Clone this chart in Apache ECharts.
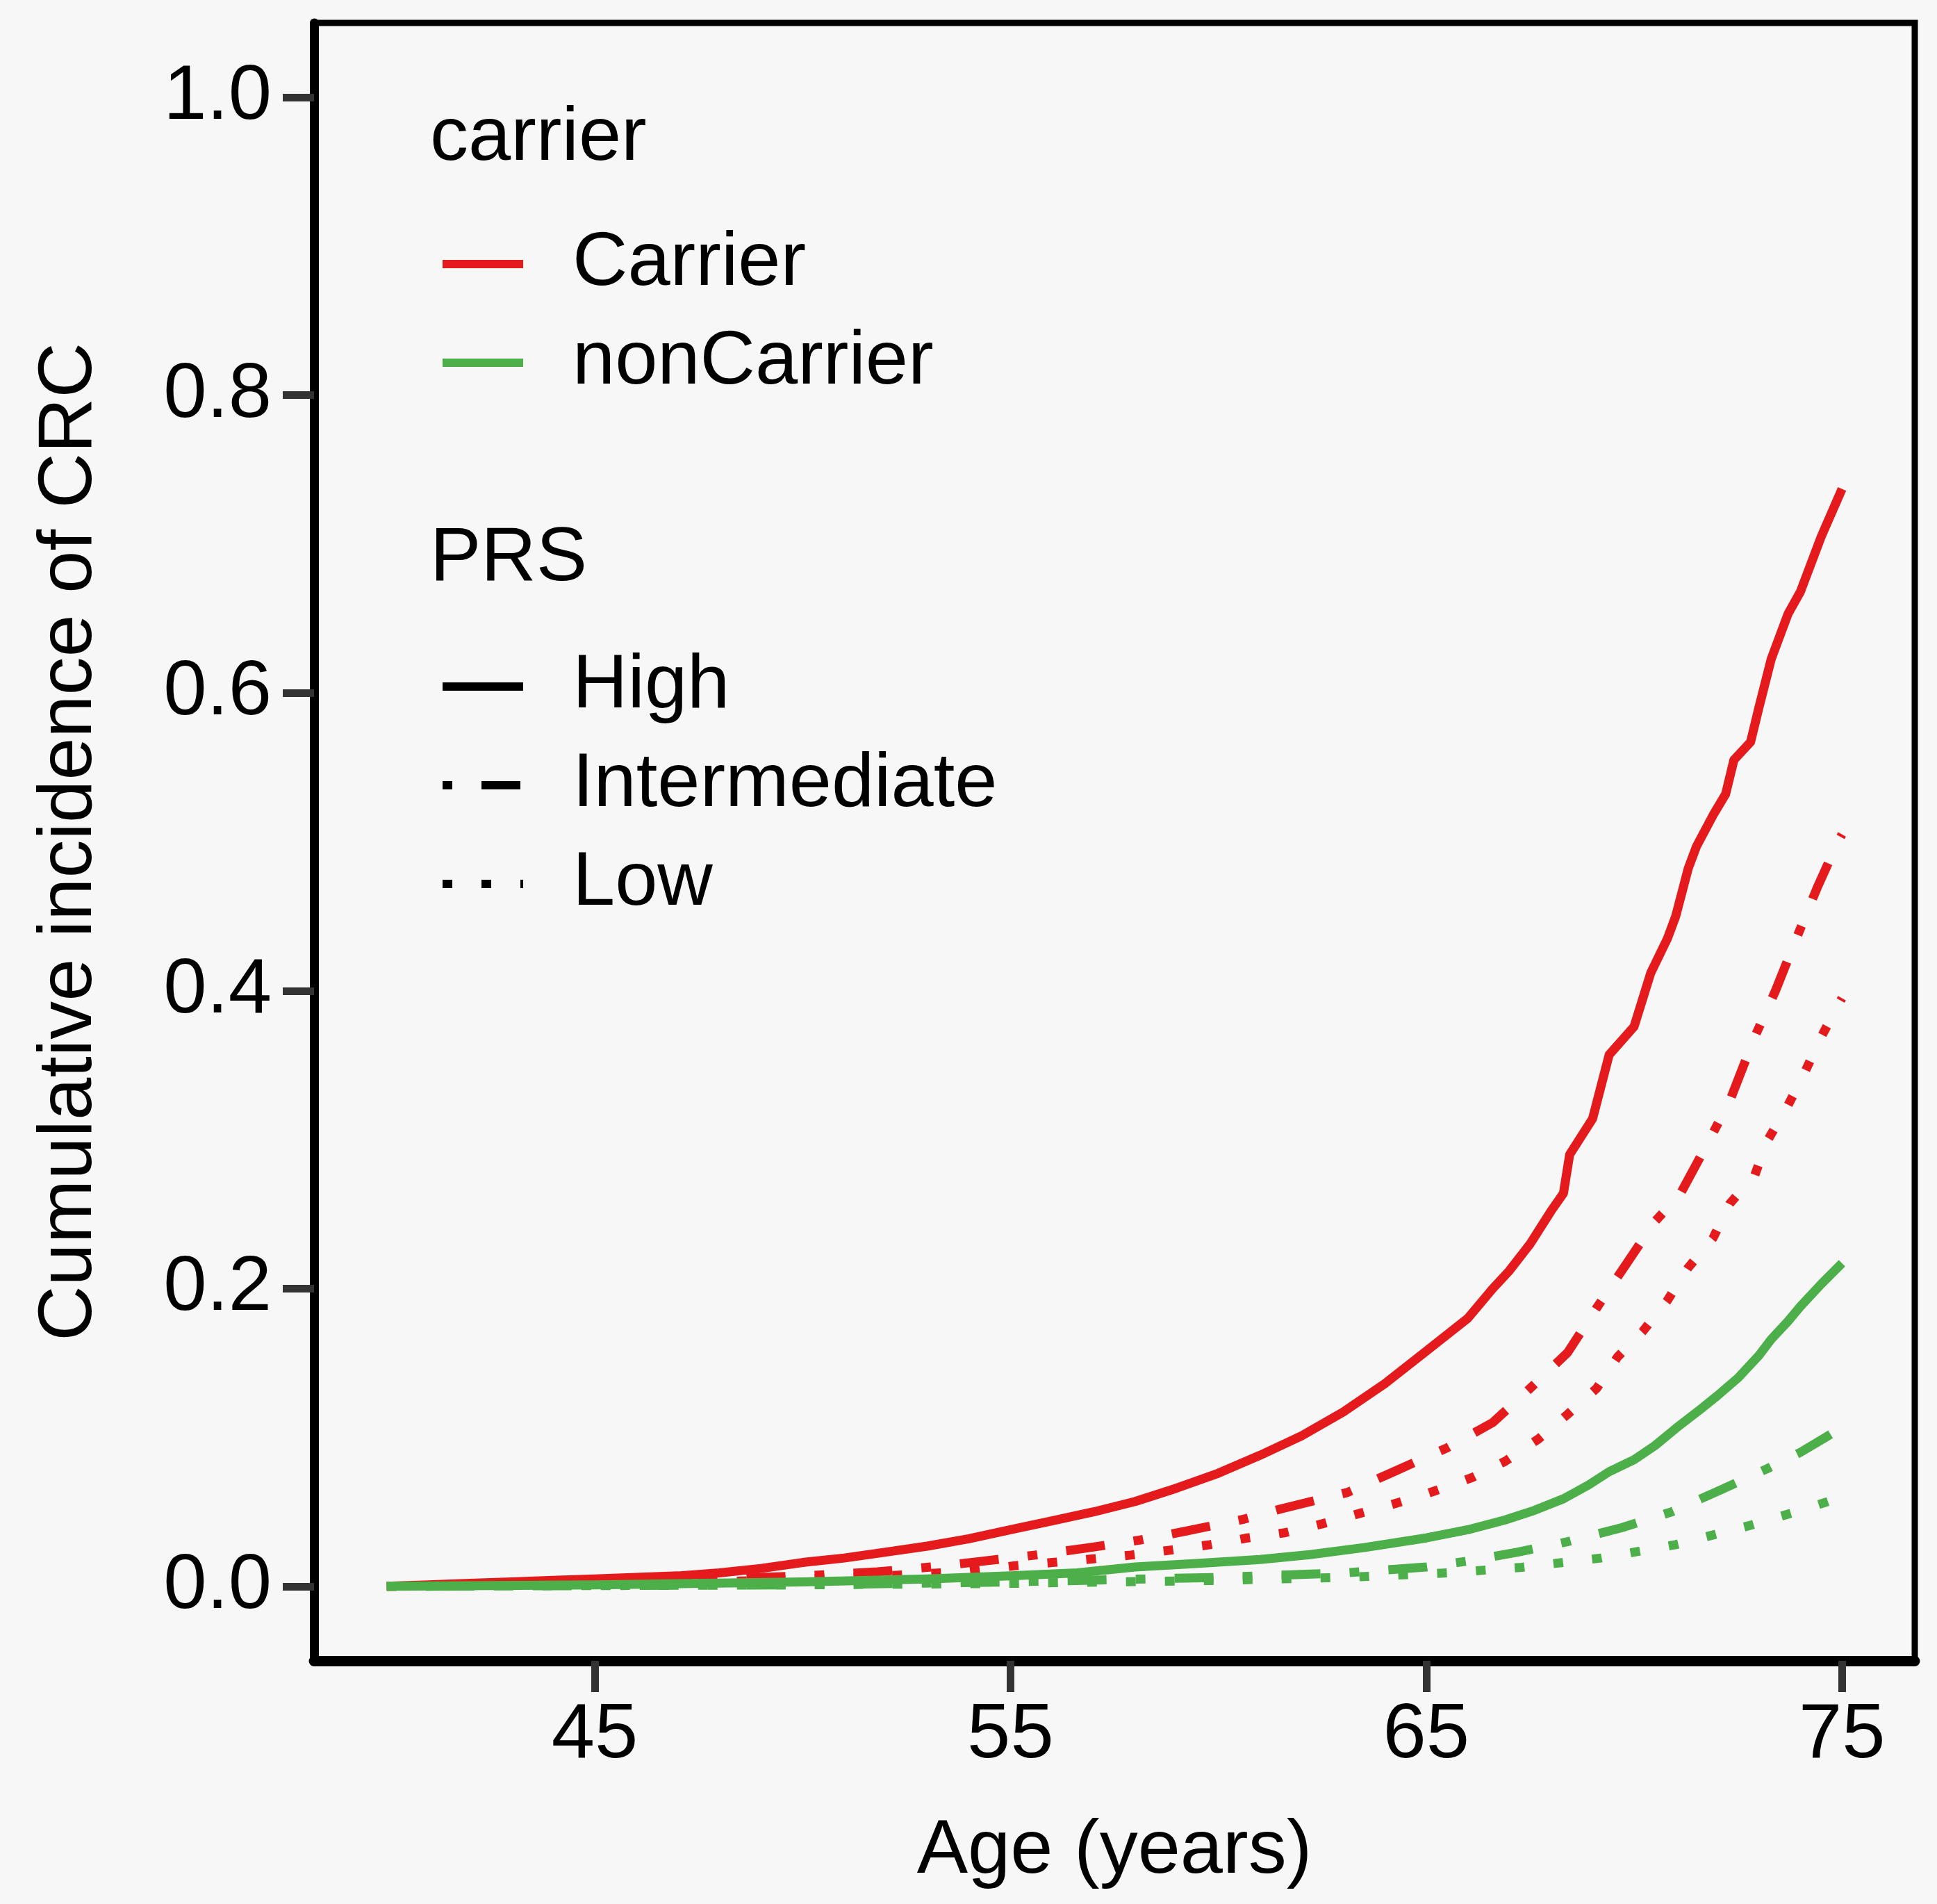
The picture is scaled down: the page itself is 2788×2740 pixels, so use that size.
<!DOCTYPE html>
<html>
<head>
<meta charset="utf-8">
<script src="https://cdn.jsdelivr.net/npm/echarts@6/dist/echarts.min.js"></script>
<style>
html,body{margin:0;padding:0;background:#f7f7f7;}
#chart{width:2788px;height:2740px;}
</style>
</head>
<body>
<div id="chart"></div>
<script>
// ---- data ----
const xTicks = [45, 55, 65, 75];
const yTicks = [0, 0.2, 0.4, 0.6, 0.8, 1.0];

const carrierHighAge = [40,41,42,43,44,45,46,47,48,49,50,51,52,53,54,55,56,57,58,59,60,61,62,63,64,65,66,66.6,67,67.5,68,68.3,68.45,69,69.4,70,70.4,70.8,71,71.3,71.5,71.9,72.2,72.4,72.8,73,73.3,73.7,74,74.5,75];
const carrierHighVal = [0,0.001,0.002,0.003,0.004,0.005,0.006,0.007,0.009,0.012,0.016,0.019,0.023,0.027,0.032,0.038,0.044,0.050,0.057,0.066,0.076,0.088,0.101,0.117,0.136,0.158,0.180,0.200,0.212,0.230,0.252,0.264,0.290,0.314,0.357,0.376,0.412,0.435,0.450,0.482,0.497,0.518,0.532,0.555,0.567,0.590,0.623,0.653,0.668,0.705,0.737];

const carrierInterAge = [40,42,44,46,48,50,51.8,53.1,54.3,55.6,56.9,58.1,59.2,60.6,61.5,63.1,64.3,65.5,66.6,67.5,68.4,69.1,69.8,70.5,71.1,71.7,72.3,72.9,73.4,73.9,74.4,74.9,75];
const carrierInterVal = [0,0.001,0.002,0.003,0.005,0.007,0.0097,0.013,0.0168,0.021,0.026,0.031,0.037,0.045,0.052,0.063,0.078,0.093,0.110,0.133,0.157,0.187,0.216,0.245,0.263,0.294,0.326,0.369,0.400,0.435,0.469,0.500,0.505];

const carrierLowAge = [40,44,48,50,52,54,55.1,56.0,57.0,57.9,58.9,59.8,60.7,61.6,62.5,63.4,64.3,65.2,66.1,66.9,67.7,68.4,69.1,69.6,70.2,70.8,71.3,71.9,72.3,72.9,73.2,73.7,74.1,74.5,74.9,75];
const carrierLowVal = [0,0.001,0.003,0.005,0.007,0.010,0.0138,0.016,0.0185,0.021,0.0245,0.028,0.0325,0.036,0.042,0.049,0.056,0.064,0.073,0.084,0.099,0.1155,0.133,0.154,0.171,0.192,0.214,0.234,0.257,0.276,0.299,0.323,0.345,0.369,0.390,0.395];

const nonHighAge = [40,45,50,53,55,56.6,58,59.4,61,62.2,63.5,65,66,66.9,67.6,68.3,68.9,69.4,70,70.5,71,71.6,72,72.5,73,73.3,73.7,74,74.5,75];
const nonHighVal = [0,0.001,0.003,0.005,0.007,0.009,0.013,0.0152,0.018,0.0213,0.026,0.0325,0.038,0.0446,0.051,0.0588,0.068,0.077,0.085,0.0945,0.106,0.119,0.128,0.140,0.155,0.166,0.178,0.188,0.203,0.217];

const nonInterAge = [40,50,55,60,63,65,66,67.2,68.4,69.7,70.9,72.1,73.2,74,74.6,75];
const nonInterVal = [0,0.001,0.003,0.006,0.009,0.013,0.017,0.023,0.030,0.0394,0.050,0.065,0.079,0.090,0.100,0.107];

const nonLowAge = [40,50,55,60,63,65.5,67.3,69.2,71,72.8,74,75];
const nonLowVal = [0,0.001,0.002,0.004,0.006,0.009,0.0128,0.019,0.028,0.041,0.051,0.060];

const carrierNames = ['Carrier', 'nonCarrier'];
const prsNames = ['High', 'Intermediate', 'Low'];

// ---- styles ----
const RED = '#E41A1C', GREEN = '#4DAF4A';
const LW = 13;
const DASH = {
  High: 'solid',
  Intermediate: [14, 42, 56, 42],
  Low: [14, 42]
};
const FONT = '"Liberation Sans", Arial, Helvetica, sans-serif';

function pairs(a, v) { return a.map((x, i) => [x, v[i]]); }

function curve(name, color, prs, a, v) {
  return {
    name: name, type: 'line', data: pairs(a, v),
    symbol: 'none', showSymbol: false, smooth: false, animation: false,
    lineStyle: { color: color, width: LW, type: DASH[prs], cap: 'butt', join: 'round' },
    itemStyle: { color: color },
    emphasis: { disabled: true }, silent: true, z: 3
  };
}
function dummy(name, color, prs) {
  return {
    name: name, type: 'line', data: [], symbol: 'none', animation: false,
    lineStyle: { color: color, width: LW, type: DASH[prs] },
    itemStyle: { color: color }
  };
}

const series = [
  curve('Carrier High', RED, 'High', carrierHighAge, carrierHighVal),
  curve('Carrier Intermediate', RED, 'Intermediate', carrierInterAge, carrierInterVal),
  curve('Carrier Low', RED, 'Low', carrierLowAge, carrierLowVal),
  curve('nonCarrier High', GREEN, 'High', nonHighAge, nonHighVal),
  curve('nonCarrier Intermediate', GREEN, 'Intermediate', nonInterAge, nonInterVal),
  curve('nonCarrier Low', GREEN, 'Low', nonLowAge, nonLowVal),
  dummy('Carrier', RED, 'High'),
  dummy('nonCarrier', GREEN, 'High'),
  dummy('High', '#000', 'High'),
  dummy('Intermediate', '#000', 'Intermediate'),
  dummy('Low', '#000', 'Low')
];

const legendCommon = {
  orient: 'vertical', left: 631, itemWidth: 116, itemHeight: 20, itemGap: 0, padding: 0,
  selectedMode: false,
  itemStyle: { opacity: 0 },
  lineStyle: { width: 12, cap: 'butt' },
  textStyle: { fontSize: 110, fontFamily: FONT, color: '#000', lineHeight: 142, padding: [0, 0, 0, 66] }
};

const chart = echarts.init(document.getElementById('chart'), null, { renderer: 'canvas' });
chart.setOption({
  backgroundColor: '#f7f7f7',
  animation: false,
  grid: { left: 452, top: 33, width: 2304, height: 2357, show: true, borderColor: '#000', borderWidth: 9, backgroundColor: '#f7f7f7', containLabel: false },
  xAxis: {
    type: 'value', min: 38.25, max: 76.75,
    name: 'Age (years)', nameLocation: 'middle', nameGap: 220,
    nameTextStyle: { fontSize: 110, fontFamily: FONT, color: '#000' },
    axisLine: { show: true, onZero: false, lineStyle: { color: '#000', width: 15 } },
    axisTick: { show: true, length: 45, customValues: xTicks, lineStyle: { color: '#333', width: 11 } },
    axisLabel: { customValues: xTicks, margin: 52, fontSize: 112, fontFamily: FONT, color: '#000', formatter: v => String(v) },
    splitLine: { show: false }
  },
  yAxis: {
    type: 'value', min: -0.05, max: 1.05,
    name: 'Cumulative incidence of CRC', nameLocation: 'middle', nameGap: 296, nameRotate: 90,
    nameTextStyle: { fontSize: 110, fontFamily: FONT, color: '#000' },
    axisLine: { show: true, onZero: false, lineStyle: { color: '#000', width: 13 } },
    axisTick: { show: true, length: 45, customValues: yTicks, lineStyle: { color: '#333', width: 11 } },
    axisLabel: { customValues: yTicks, margin: 61, fontSize: 112, fontFamily: FONT, color: '#000', formatter: v => v.toFixed(1) },
    splitLine: { show: false }
  },
  legend: [
    Object.assign({}, legendCommon, { top: 309, data: carrierNames }),
    Object.assign({}, legendCommon, { top: 917, data: prsNames })
  ],
  graphic: [
    { type: 'text', left: 619, top: 145, style: { text: 'carrier', fontSize: 110, fontFamily: FONT, fill: '#000' }, z: 10 },
    { type: 'text', left: 619, top: 750, style: { text: 'PRS', fontSize: 110, fontFamily: FONT, fill: '#000' }, z: 10 }
  ],
  series: series
});
</script>
</body>
</html>
